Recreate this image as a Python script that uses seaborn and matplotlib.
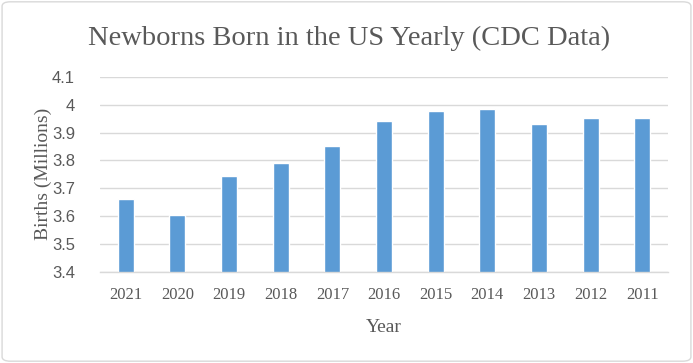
import matplotlib
matplotlib.use("Agg")
import matplotlib.pyplot as plt
import seaborn as sns
from matplotlib.patches import FancyBboxPatch

years = ["2021", "2020", "2019", "2018", "2017", "2016", "2015", "2014", "2013", "2012", "2011"]
births = [3.66, 3.605, 3.745, 3.79, 3.853, 3.942, 3.978, 3.985, 3.93, 3.953, 3.953]
y_ticks = [3.4, 3.5, 3.6, 3.7, 3.8, 3.9, 4.0, 4.1]
y_tick_labels = ["3.4", "3.5", "3.6", "3.7", "3.8", "3.9", "4", "4.1"]

sns.set_theme(style="white")
text_grey = "#595959"
serif = ["Liberation Serif", "DejaVu Serif"]

fig = plt.figure(figsize=(6.93, 3.63), dpi=100)
ax = fig.add_axes([0.1443, 0.2507, 0.8197, 0.538])

sns.barplot(x=years, y=births, order=years, color="#5B9BD5", saturation=1,
            width=0.31, ax=ax)

ax.set_ylim(3.4, 4.1)
ax.set_yticks(y_ticks)
ax.set_yticklabels(y_tick_labels, fontsize=12, color=text_grey,
                   family=["Liberation Sans", "DejaVu Sans"])
ax.set_xticks(range(len(years)))
ax.set_xticklabels(years, fontsize=12, color=text_grey, family=serif)
ax.tick_params(axis="y", length=0, pad=18)
ax.tick_params(axis="x", length=0, pad=11)
ax.set_xlim(-0.5, len(years) - 0.5)

ax.yaxis.grid(True, color="#D9D9D9", linewidth=1)
ax.set_axisbelow(True)
for side in ["top", "right", "left"]:
    ax.spines[side].set_visible(False)
ax.spines["bottom"].set_color("#D9D9D9")
ax.spines["bottom"].set_linewidth(1)

ax.set_xlabel("Year", fontsize=14, color=text_grey, family=serif, labelpad=11)
ax.set_ylabel("Births (Millions)", fontsize=14, color=text_grey, family=serif, labelpad=0)

fig.text(0.5036, 0.893, "Newborns Born in the US Yearly (CDC Data)", ha="center", va="center",
         fontsize=20.5, color=text_grey, family=serif)

border = FancyBboxPatch((0.003, 0.005), 0.994, 0.99, boxstyle="round,pad=0,rounding_size=0.012",
                        transform=fig.transFigure, fill=False, edgecolor="#D9D9D9", linewidth=1)
fig.patches.append(border)

fig.savefig("out.png", dpi=100)
